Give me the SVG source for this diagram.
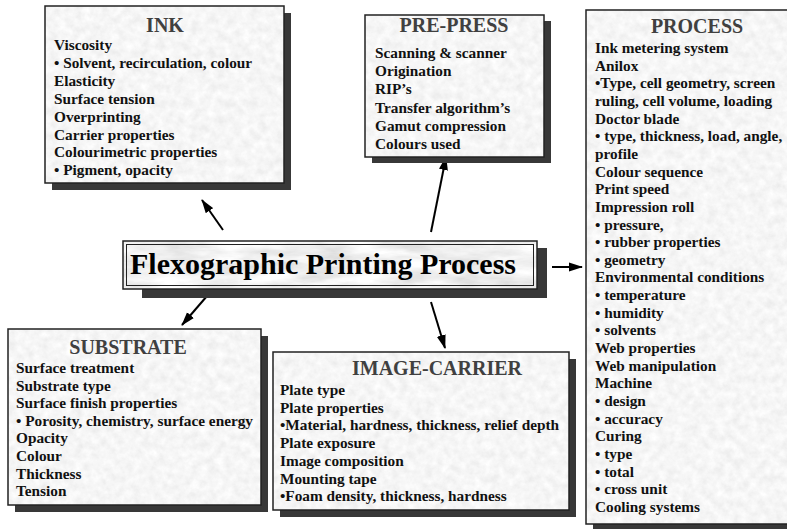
<svg xmlns="http://www.w3.org/2000/svg" width="787" height="529" viewBox="0 0 787 529">
<style>
.shadow{fill:#383838}
.frame{fill:none;stroke:#222;stroke-width:1.5}
.title{font-family:"Liberation Serif","Times New Roman",serif;font-weight:bold;font-size:20px;fill:#404040;text-anchor:middle}
.body{font-family:"Liberation Serif","Times New Roman",serif;font-weight:bold;font-size:15.3px;fill:#111}
.main{font-family:"Liberation Serif","Times New Roman",serif;font-weight:bold;font-size:30px;fill:#000;text-anchor:middle}
.conn{stroke:#000;stroke-width:2;fill:none;marker-end:url(#ah)}
</style>
<defs>
<filter id="paper" x="0" y="0" width="1" height="1">
<feTurbulence type="fractalNoise" baseFrequency="0.12" numOctaves="4" seed="7" result="n"/>
<feColorMatrix in="n" type="matrix" values="0.22 0 0 0 0.81  0.22 0 0 0 0.81  0.22 0 0 0 0.81  0 0 0 0 1" result="g"/>
<feComposite in="g" in2="SourceGraphic" operator="in"/>
</filter>
<filter id="marble" x="0" y="0" width="1" height="1">
<feTurbulence type="fractalNoise" baseFrequency="0.02 0.08" numOctaves="5" seed="3" result="n"/>
<feColorMatrix in="n" type="matrix" values="0.5 0 0 0 0.62  0.5 0 0 0 0.62  0.5 0 0 0 0.62  0 0 0 0 1" result="g"/>
<feComposite in="g" in2="SourceGraphic" operator="in"/>
</filter>
<marker id="ah" markerWidth="14" markerHeight="10" refX="13" refY="5" orient="auto" markerUnits="userSpaceOnUse">
<path d="M0,0.5 L14,5 L0,9.5 z" fill="#000"/>
</marker>
</defs>
<rect width="787" height="529" fill="#fff"/>

<g id="connectors">
<line class="conn" x1="223" y1="230" x2="202" y2="200"/>
<line class="conn" x1="431" y1="232" x2="446" y2="157"/>
<line class="conn" x1="552" y1="267" x2="582" y2="267"/>
<line class="conn" x1="207" y1="296" x2="182" y2="325"/>
<line class="conn" x1="431" y1="302" x2="445" y2="348"/>
</g>

<g id="ink">
<rect class="shadow" x="52" y="13" width="239" height="177"/>
<rect x="45" y="6" width="239" height="177" filter="url(#paper)"/>
<rect class="frame" x="45" y="6" width="239" height="177"/>
<text class="title" x="165" y="32">INK</text>
<text class="body" x="54" y="50">Viscosity</text>
<text class="body" x="54" y="67.9">• Solvent, recirculation, colour</text>
<text class="body" x="54" y="85.8">Elasticity</text>
<text class="body" x="54" y="103.7">Surface tension</text>
<text class="body" x="54" y="121.6">Overprinting</text>
<text class="body" x="54" y="139.5">Carrier properties</text>
<text class="body" x="54" y="157.4">Colourimetric properties</text>
<text class="body" x="54" y="175.3">• Pigment, opacity</text>
</g>

<g id="pre-press">
<rect class="shadow" x="372" y="21" width="179" height="142"/>
<rect x="365" y="15" width="179" height="142" filter="url(#paper)"/>
<rect class="frame" x="365" y="15" width="179" height="142"/>
<text class="title" x="454" y="32">PRE-PRESS</text>
<text class="body" x="375" y="58">Scanning &amp; scanner</text>
<text class="body" x="375" y="76.2">Origination</text>
<text class="body" x="375" y="94.4">RIP’s</text>
<text class="body" x="375" y="112.6">Transfer algorithm’s</text>
<text class="body" x="375" y="130.8">Gamut compression</text>
<text class="body" x="375" y="149">Colours used</text>
</g>

<g id="process">
<rect class="shadow" x="593" y="17" width="210" height="512"/>
<rect x="586" y="10" width="210" height="514" filter="url(#paper)"/>
<rect class="frame" x="586" y="10" width="210" height="514"/>
<text class="title" x="697" y="33">PROCESS</text>
<text class="body" x="595" y="53">Ink metering system</text>
<text class="body" x="595" y="70.65">Anilox</text>
<text class="body" x="595" y="88.3">•Type, cell geometry, screen</text>
<text class="body" x="595" y="105.95">ruling, cell volume, loading</text>
<text class="body" x="595" y="123.6">Doctor blade</text>
<text class="body" x="595" y="141.25">• type, thickness, load, angle,</text>
<text class="body" x="595" y="158.9">profile</text>
<text class="body" x="595" y="176.55">Colour sequence</text>
<text class="body" x="595" y="194.2">Print speed</text>
<text class="body" x="595" y="211.85">Impression roll</text>
<text class="body" x="595" y="229.5">• pressure,</text>
<text class="body" x="595" y="247.15">• rubber properties</text>
<text class="body" x="595" y="264.8">• geometry</text>
<text class="body" x="595" y="282.45">Environmental conditions</text>
<text class="body" x="595" y="300.1">• temperature</text>
<text class="body" x="595" y="317.75">• humidity</text>
<text class="body" x="595" y="335.4">• solvents</text>
<text class="body" x="595" y="353.05">Web properties</text>
<text class="body" x="595" y="370.7">Web manipulation</text>
<text class="body" x="595" y="388.35">Machine</text>
<text class="body" x="595" y="406">• design</text>
<text class="body" x="595" y="423.65">• accuracy</text>
<text class="body" x="595" y="441.3">Curing</text>
<text class="body" x="595" y="458.95">• type</text>
<text class="body" x="595" y="476.6">• total</text>
<text class="body" x="595" y="494.25">• cross unit</text>
<text class="body" x="595" y="511.9">Cooling systems</text>
</g>

<g id="center">
<rect class="shadow" x="142" y="248" width="405" height="50"/>
<rect x="123" y="241" width="414" height="48" filter="url(#marble)"/>
<rect class="frame" x="123" y="241" width="414" height="48"/>
<rect fill="none" stroke="#222" stroke-width="1" x="126.5" y="244.5" width="407" height="41"/>
<text class="main" x="323" y="274">Flexographic Printing Process</text>
</g>

<g id="substrate">
<rect class="shadow" x="15" y="336" width="253" height="176"/>
<rect x="8" y="329" width="253" height="176" filter="url(#paper)"/>
<rect class="frame" x="8" y="329" width="253" height="176"/>
<text class="title" x="128" y="354">SUBSTRATE</text>
<text class="body" x="16" y="373">Surface treatment</text>
<text class="body" x="16" y="390.6">Substrate type</text>
<text class="body" x="16" y="408.2">Surface finish properties</text>
<text class="body" x="16" y="425.8">• Porosity, chemistry, surface energy</text>
<text class="body" x="16" y="443.4">Opacity</text>
<text class="body" x="16" y="461">Colour</text>
<text class="body" x="16" y="478.6">Thickness</text>
<text class="body" x="16" y="496.2">Tension</text>
</g>

<g id="image-carrier">
<rect class="shadow" x="280" y="359" width="296" height="158"/>
<rect x="273" y="352" width="296" height="158" filter="url(#paper)"/>
<rect class="frame" x="273" y="352" width="296" height="158"/>
<text class="title" x="437" y="375">IMAGE-CARRIER</text>
<text class="body" x="280" y="395">Plate type</text>
<text class="body" x="280" y="412.7">Plate properties</text>
<text class="body" x="280" y="430.4">•Material, hardness, thickness, relief depth</text>
<text class="body" x="280" y="448.1">Plate exposure</text>
<text class="body" x="280" y="465.8">Image composition</text>
<text class="body" x="280" y="483.5">Mounting tape</text>
<text class="body" x="280" y="501.2">•Foam density, thickness, hardness</text>
</g>
</svg>
